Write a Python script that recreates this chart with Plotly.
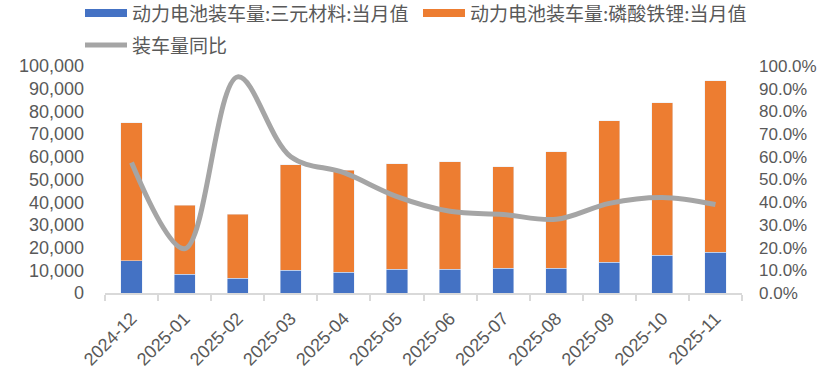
import plotly.graph_objects as go

months = ["2024-12", "2025-01", "2025-02", "2025-03", "2025-04", "2025-05",
          "2025-06", "2025-07", "2025-08", "2025-09", "2025-10", "2025-11"]
totals = [75000, 38600, 34700, 56600, 54000, 57000, 57900, 55700, 62300, 75900, 83800, 93400]
ternary = [14200, 8300, 6600, 10100, 9200, 10500, 10500, 11000, 11000, 13600, 16700, 18000]
lfp = [t - s for t, s in zip(totals, ternary)]
yoy = [0.575, 0.195, 0.952, 0.60, 0.53, 0.425, 0.36, 0.346, 0.325, 0.395, 0.421, 0.39]

name_tern = "动力电池装车量:三元材料:当月值"
name_lfp = "动力电池装车量:磷酸铁锂:当月值"
name_yoy = "装车量同比"

c_blue, c_orange, c_grey = "#4472C4", "#ED7D31", "#A5A5A5"
txt = "#595959"
num_font = "Liberation Sans, Arial, sans-serif"
cjk_font = "Noto Sans CJK SC, sans-serif"

W, H = 825, 379
L, R, T, B = 105, 83, 66, 86
pw, ph = W - L - R, H - T - B


def px(x):
    return (x - L) / pw


def py(y):
    return (H - B - y) / ph


fig = go.Figure()
fig.add_trace(go.Bar(x=months, y=ternary, name=name_tern, marker_color=c_blue))
fig.add_trace(go.Bar(x=months, y=lfp, name=name_lfp, marker_color=c_orange))
fig.add_trace(go.Scatter(x=months, y=yoy, name=name_yoy, yaxis="y2", mode="lines",
                         line=dict(color=c_grey, width=5, shape="spline", smoothing=1.0)))

# legend drawn manually (Excel-style wide swatches)
shapes = [
    dict(type="rect", xref="paper", yref="paper", x0=px(85), x1=px(127), y0=py(17), y1=py(9),
         fillcolor=c_blue, line=dict(width=0)),
    dict(type="rect", xref="paper", yref="paper", x0=px(423), x1=px(465), y0=py(17), y1=py(9),
         fillcolor=c_orange, line=dict(width=0)),
    dict(type="line", xref="paper", yref="paper", x0=px(85), x1=px(127), y0=py(45), y1=py(45),
         line=dict(color=c_grey, width=5)),
]
annotations = [
    dict(text=name_tern, x=px(130), y=py(13), xref="paper", yref="paper",
         xanchor="left", yanchor="middle", showarrow=False,
         font=dict(family=cjk_font, size=19, color=txt)),
    dict(text=name_lfp, x=px(468), y=py(13), xref="paper", yref="paper",
         xanchor="left", yanchor="middle", showarrow=False,
         font=dict(family=cjk_font, size=19, color=txt)),
    dict(text=name_yoy, x=px(130), y=py(45), xref="paper", yref="paper",
         xanchor="left", yanchor="middle", showarrow=False,
         font=dict(family=cjk_font, size=19, color=txt)),
]

fig.update_layout(
    width=W, height=H,
    margin=dict(l=L, r=R, t=T, b=B, autoexpand=False),
    barmode="stack", bargap=0.6,
    plot_bgcolor="white", paper_bgcolor="white",
    showlegend=False,
    shapes=shapes, annotations=annotations,
    font=dict(family=num_font, size=18, color=txt),
    xaxis=dict(type="category", showline=True, linecolor="#D9D9D9", linewidth=2,
               ticks="outside", tickson="boundaries", ticklen=6, tickcolor="#D9D9D9",
               tickwidth=2, tickangle=-45, ticklabelstandoff=6,
               tickfont=dict(family=num_font, size=18, color=txt), showgrid=False),
    yaxis=dict(range=[0, 100000], dtick=10000, tickformat=",", showgrid=False,
               zeroline=False, showline=False, ticklabelstandoff=20,
               tickfont=dict(family=num_font, size=18, color=txt)),
    yaxis2=dict(range=[0, 1], dtick=0.1, tickformat=".1%", overlaying="y", side="right",
                showgrid=False, zeroline=False, showline=False, ticklabelstandoff=16,
                tickfont=dict(family=num_font, size=17, color=txt)),
)

fig.write_html("out.html", config={"displayModeBar": False},
               post_script="document.body.style.margin='0';document.body.style.padding='0';")
